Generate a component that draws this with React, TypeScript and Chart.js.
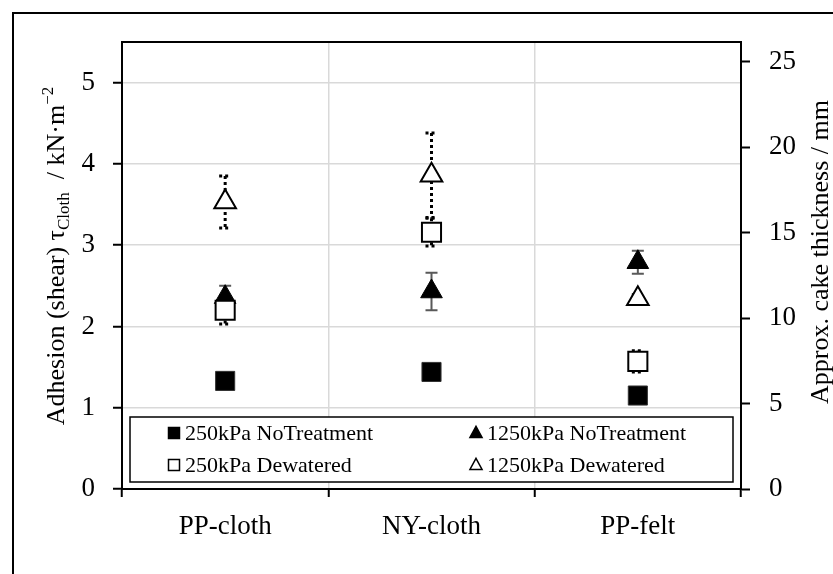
import React, { useEffect, useRef } from 'react';
import { Chart, registerables } from 'chart.js';

Chart.register(...registerables);

const categories = ['PP-cloth', 'NY-cloth', 'PP-felt'];
const seriesLabels = ['250kPa NoTreatment', '1250kPa NoTreatment', '250kPa Dewatered', '1250kPa Dewatered'];
const noTreat250 = [1.33, 1.44, 1.15];
const noTreat250Err = [0.04, 0.06, 0.04];
const noTreat1250 = [2.36, 2.43, 2.79];
const noTreat1250Err = [0.14, 0.23, 0.14];
const dewatered250 = [2.2, 3.16, 1.57];
const dewatered250Err = [0.17, 0.17, 0.13];
const dewatered1250 = [3.53, 3.86, 2.34];
const dewatered1250Err = [0.32, 0.52, 0.05];
const leftTicks = [0, 1, 2, 3, 4, 5];
const rightTicks = [0, 5, 10, 15, 20, 25];
const leftMax = 5.5;
const rightMax = 26.15;

const FONT = '"Liberation Serif", "Times New Roman", serif';

const errorSets = [noTreat250Err, noTreat1250Err, dewatered250Err, dewatered1250Err];
const dottedSets = [false, false, true, true];

const errorBarPlugin = {
  id: 'errorBars',
  beforeDatasetsDraw(chart: any) {
    const ctx = chart.ctx;
    const xs = chart.scales.x;
    const ys = chart.scales.y;
    chart.data.datasets.forEach((ds: any, i: number) => {
      const errs = errorSets[i];
      const dotted = dottedSets[i];
      ds.data.forEach((v: number, j: number) => {
        const e = errs[j];
        const x = xs.getPixelForValue(j);
        const yt = ys.getPixelForValue(v + e);
        const yb = ys.getPixelForValue(v - e);
        ctx.save();
        if (dotted) {
          ctx.strokeStyle = '#000';
          ctx.lineWidth = 3;
          ctx.setLineDash([3, 3]);
        } else {
          ctx.strokeStyle = '#595959';
          ctx.lineWidth = 2;
        }
        ctx.beginPath();
        ctx.moveTo(x, yt);
        ctx.lineTo(x, yb);
        ctx.moveTo(x - 6, yt);
        ctx.lineTo(x + 6, yt);
        ctx.moveTo(x - 6, yb);
        ctx.lineTo(x + 6, yb);
        ctx.stroke();
        ctx.restore();
      });
    });
  },
};

function drawMarker(ctx: CanvasRenderingContext2D, style: string, filled: boolean, x: number, y: number, s: number) {
  ctx.save();
  ctx.beginPath();
  if (style === 'rect') {
    ctx.rect(x - s / 2, y - s / 2, s, s);
  } else {
    ctx.moveTo(x, y - s * 0.6);
    ctx.lineTo(x + s * 0.55, y + s * 0.4);
    ctx.lineTo(x - s * 0.55, y + s * 0.4);
    ctx.closePath();
  }
  ctx.fillStyle = filled ? '#000' : '#fff';
  ctx.fill();
  ctx.strokeStyle = '#000';
  ctx.lineWidth = 1.5;
  ctx.stroke();
  ctx.restore();
}

const decorPlugin = {
  id: 'decor',
  beforeDraw(chart: any) {
    const ctx = chart.ctx;
    ctx.save();
    ctx.fillStyle = '#fff';
    ctx.fillRect(0, 0, chart.width, chart.height);
    ctx.strokeStyle = '#000';
    ctx.lineWidth = 2;
    ctx.strokeRect(13, 13, chart.width + 20, chart.height + 20);
    ctx.restore();
  },
  afterDraw(chart: any) {
    const ctx = chart.ctx;
    const a = chart.chartArea;
    ctx.save();
    ctx.strokeStyle = '#000';
    ctx.lineWidth = 2;
    ctx.strokeRect(a.left, a.top, a.right - a.left, a.bottom - a.top);

    const lx = 130, ly = 417, lw = 603, lh = 65;
    ctx.fillStyle = '#fff';
    ctx.fillRect(lx, ly, lw, lh);
    ctx.strokeStyle = '#000';
    ctx.lineWidth = 1.5;
    ctx.strokeRect(lx, ly, lw, lh);
    const pos = [
      [174, 433],
      [476, 433],
      [174, 465],
      [476, 465],
    ];
    ctx.font = `22px ${FONT}`;
    ctx.textBaseline = 'middle';
    ctx.textAlign = 'left';
    chart.data.datasets.forEach((ds: any, i: number) => {
      const [px, py] = pos[i];
      drawMarker(ctx, ds.pointStyle, i < 2, px, py, 11);
      ctx.fillStyle = '#000';
      ctx.fillText(ds.label, px + 11, py + 1);
    });

    const drawRich = (cx: number, cy: number, parts: { t: string; size: number; dy: number }[]) => {
      ctx.save();
      ctx.translate(cx, cy);
      ctx.rotate(-Math.PI / 2);
      ctx.textBaseline = 'alphabetic';
      ctx.textAlign = 'left';
      let total = 0;
      parts.forEach((p) => {
        ctx.font = `${p.size}px ${FONT}`;
        total += ctx.measureText(p.t).width;
      });
      let x = -total / 2;
      parts.forEach((p) => {
        ctx.font = `${p.size}px ${FONT}`;
        ctx.fillStyle = '#000';
        ctx.fillText(p.t, x, p.dy);
        x += ctx.measureText(p.t).width;
      });
      ctx.restore();
    };
    drawRich(64, 256, [
      { t: 'Adhesion (shear) τ', size: 26, dy: 0 },
      { t: 'Cloth', size: 17, dy: 5 },
      { t: '  / kN·m', size: 26, dy: 0 },
      { t: '−2', size: 17, dy: -11 },
    ]);
    drawRich(828, 252, [{ t: 'Approx. cake thickness / mm', size: 26, dy: 0 }]);
    ctx.restore();
  },
};

export default function App() {
  const ref = useRef<HTMLCanvasElement | null>(null);
  useEffect(() => {
    if (!ref.current) return;
    const tickFont = { family: FONT, size: 27 };
    const chart = new Chart(ref.current, {
      type: 'line',
      data: {
        labels: categories,
        datasets: [
          {
            label: seriesLabels[0],
            data: noTreat250,
            showLine: false,
            pointStyle: 'rect',
            pointRadius: 13.5,
            backgroundColor: '#000',
            borderColor: '#333',
            borderWidth: 1,
            order: 3,
          },
          {
            label: seriesLabels[1],
            data: noTreat1250,
            showLine: false,
            pointStyle: 'triangle',
            pointRadius: 12.5,
            backgroundColor: '#000',
            borderColor: '#000',
            borderWidth: 1,
            order: 4,
          },
          {
            label: seriesLabels[2],
            data: dewatered250,
            showLine: false,
            pointStyle: 'rect',
            pointRadius: 13.5,
            backgroundColor: '#fff',
            borderColor: '#000',
            borderWidth: 2,
            order: 2,
          },
          {
            label: seriesLabels[3],
            data: dewatered1250,
            showLine: false,
            pointStyle: 'triangle',
            pointRadius: 12.5,
            backgroundColor: '#fff',
            borderColor: '#000',
            borderWidth: 2,
            order: 1,
          },
        ] as any,
      },
      options: {
        animation: false,
        responsive: false,
        layout: { padding: { top: 42, left: 0, right: 0, bottom: 0 } },
        plugins: {
          legend: { display: false },
          tooltip: { enabled: false },
          title: { display: false },
        },
        scales: {
          x: {
            type: 'category',
            offset: true,
            grid: {
              offset: true,
              color: '#d9d9d9',
              lineWidth: 1.5,
              drawTicks: true,
              tickLength: 8,
              tickColor: '#000',
              tickWidth: 2,
            },
            border: { display: true, color: '#000', width: 2 },
            ticks: { font: tickFont, color: '#000', padding: 14, maxRotation: 0 },
            afterFit: (s: any) => {
              s.height = 85;
            },
          },
          y: {
            type: 'linear',
            position: 'left',
            min: 0,
            max: leftMax,
            grid: {
              color: '#d9d9d9',
              lineWidth: 1.5,
              drawTicks: true,
              tickLength: 9,
              tickColor: '#000',
              tickWidth: 2,
            },
            border: { display: true, color: '#000', width: 2 },
            ticks: { font: tickFont, color: '#000', padding: 18 },
            afterBuildTicks: (s: any) => {
              s.ticks = leftTicks.map((v) => ({ value: v }));
            },
            afterFit: (s: any) => {
              s.width = 122;
            },
          },
          y2: {
            type: 'linear',
            position: 'right',
            min: 0,
            max: rightMax,
            grid: {
              drawOnChartArea: false,
              drawTicks: true,
              tickLength: 9,
              tickColor: '#000',
              tickWidth: 2,
            },
            border: { display: true, color: '#000', width: 2 },
            ticks: { font: tickFont, color: '#000', padding: 19 },
            afterBuildTicks: (s: any) => {
              s.ticks = rightTicks.map((v) => ({ value: v }));
            },
            afterFit: (s: any) => {
              s.width = 92;
            },
          },
        },
      } as any,
      plugins: [errorBarPlugin, decorPlugin],
    });
    return () => chart.destroy();
  }, []);
  return (
    <div style={{ position: 'fixed', left: 0, top: 0, width: 833, height: 574, background: '#fff' }}>
      <canvas ref={ref} width={833} height={574} style={{ display: 'block' }} />
    </div>
  );
}
